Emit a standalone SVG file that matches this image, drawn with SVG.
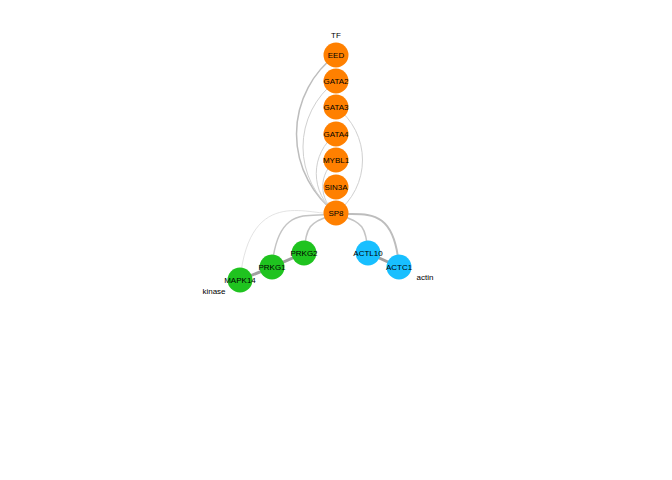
<svg xmlns="http://www.w3.org/2000/svg" width="672" height="480" viewBox="0 0 672 480">
<style>
text{font-family:"Liberation Sans",Arial,sans-serif;font-size:8px;fill:#000;text-anchor:middle}
.e{fill:none;stroke:#c8c8c8;stroke-width:1}
.tf{fill:#FF8000}
.ki{fill:#1FC31F}
.ac{fill:#18BFFF}
</style>
<rect width="672" height="480" fill="#fff"/>
<g id="connectors">
<path class="e" d="M336,55 A98.75,98.75 0 0 0 336,213" style="stroke:#bdbdbd;stroke-width:1.5"/>
<path class="e" d="M336,81 A82.5,82.5 0 0 0 336,213" style="stroke:#d0d0d0"/>
<path class="e" d="M336,107 A66.25,66.25 0 0 1 336,213" style="stroke:#d0d0d0"/>
<path class="e" d="M336,134 A49.4,49.4 0 0 0 336,213" style="stroke:#d0d0d0"/>
<path class="e" d="M336,160 A33.1,33.1 0 0 0 336,213" style="stroke:#d0d0d0"/>
<path class="e" d="M336,213 C313,223 306,221 304,253" style="stroke:#c4c4c4;stroke-width:1.5"/>
<path class="e" d="M336,213 C313,220 278,200 272,267" style="stroke:#c4c4c4;stroke-width:1.5"/>
<path class="e" d="M336,213 C313,218 250,182 240,280" style="stroke:#dcdcdc;stroke-width:0.8"/>
<path class="e" d="M336,213 C359,223 366,221 368,253" style="stroke:#c4c4c4;stroke-width:1.5"/>
<path class="e" d="M336,213 C359,218 394,200 399,267" style="stroke:#bdbdbd;stroke-width:2"/>
<path class="e" d="M304,253 L272,267 L240,280" style="stroke:#a0a0a0;stroke-width:3"/>
<path class="e" d="M368,253 L399,267" style="stroke:#a0a0a0;stroke-width:3"/>
</g>
<g id="node-EED"><circle class="tf" cx="336" cy="55" r="12.5"/><text x="336" y="58">EED</text></g>
<g id="node-GATA2"><circle class="tf" cx="336" cy="81" r="12.5"/><text x="336" y="84">GATA2</text></g>
<g id="node-GATA3"><circle class="tf" cx="336" cy="107" r="12.5"/><text x="336" y="110">GATA3</text></g>
<g id="node-GATA4"><circle class="tf" cx="336" cy="134" r="12.5"/><text x="336" y="137">GATA4</text></g>
<g id="node-MYBL1"><circle class="tf" cx="336" cy="160" r="12.5"/><text x="336" y="163">MYBL1</text></g>
<g id="node-SIN3A"><circle class="tf" cx="336" cy="187" r="12.5"/><text x="336" y="190">SIN3A</text></g>
<g id="node-SP8"><circle class="tf" cx="336" cy="213" r="12.5"/><text x="336" y="216">SP8</text></g>
<g id="node-PRKG2"><circle class="ki" cx="304" cy="253" r="12.5"/><text x="304" y="256">PRKG2</text></g>
<g id="node-PRKG1"><circle class="ki" cx="272" cy="267" r="12.5"/><text x="272" y="270">PRKG1</text></g>
<g id="node-MAPK14"><circle class="ki" cx="240" cy="280" r="12.5"/><text x="240" y="283">MAPK14</text></g>
<g id="node-ACTL10"><circle class="ac" cx="368" cy="253" r="12.5"/><text x="368" y="256">ACTL10</text></g>
<g id="node-ACTC1"><circle class="ac" cx="399" cy="267" r="12.5"/><text x="399" y="270">ACTC1</text></g>
<g id="axis-labels">
<text x="336" y="38">TF</text>
<text x="214" y="294">kinase</text>
<text x="425" y="280">actin</text>
</g>
</svg>
